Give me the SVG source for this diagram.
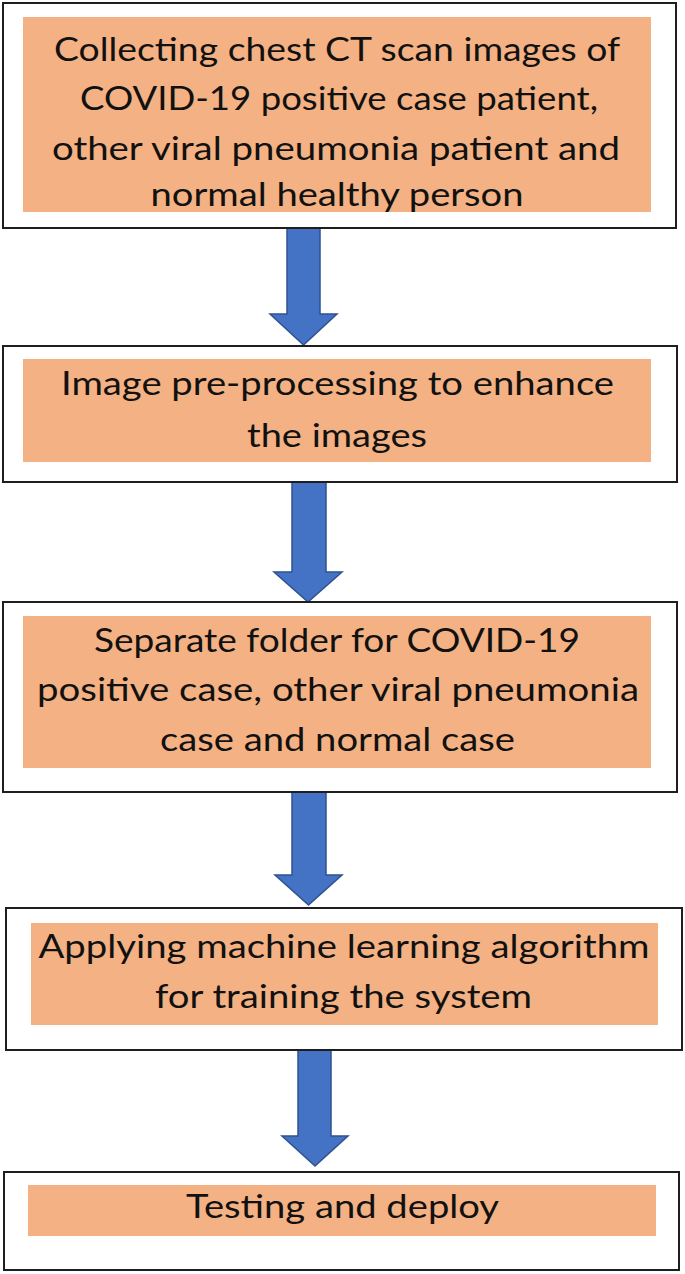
<svg xmlns="http://www.w3.org/2000/svg" width="685" height="1274" viewBox="0 0 685 1274">
<style>
.outer{fill:#ffffff;stroke:#1e1e1e;stroke-width:2}
.inner{fill:#F4B183;stroke:none}
.t{font-family:Lato,"Open Sans","Liberation Sans",sans-serif;font-size:33px;fill:#111111;text-anchor:middle}
.arrow{fill:#4472C4;stroke:#2F528F;stroke-width:1.5;stroke-linejoin:miter}
</style>
<rect width="685" height="1274" fill="#ffffff"/>
<g id="connectors">
<polygon class="arrow" points="287,228 320,228 320,314 337,314 303.5,345 270,314 287,314"/>
<polygon class="arrow" points="292,482 326,482 326,572 342,572 308,602 274,572 292,572"/>
<polygon class="arrow" points="292,792 326,792 326,875 342,875 308.5,905 275,875 292,875"/>
<polygon class="arrow" points="298,1050 331,1050 331,1136 348,1136 315,1166 282,1136 298,1136"/>
</g>
<g id="node1">
<rect class="outer" x="3" y="3" width="673" height="225"/>
<rect class="inner" x="23" y="17" width="628" height="195"/>
<text class="t" x="337" y="61" textLength="566" lengthAdjust="spacingAndGlyphs">Collecting chest CT scan images of</text>
<text class="t" x="339" y="110" textLength="518" lengthAdjust="spacingAndGlyphs">COVID-19 positive case patient,</text>
<text class="t" x="336" y="160" textLength="568" lengthAdjust="spacingAndGlyphs">other viral pneumonia patient and</text>
<text class="t" x="337" y="206" textLength="373" lengthAdjust="spacingAndGlyphs">normal healthy person</text>
</g>
<g id="node2">
<rect class="outer" x="3" y="346" width="674" height="136"/>
<rect class="inner" x="23" y="359" width="628" height="103"/>
<text class="t" x="337.5" y="395" textLength="553" lengthAdjust="spacingAndGlyphs">Image pre-processing to enhance</text>
<text class="t" x="337" y="447" textLength="180" lengthAdjust="spacingAndGlyphs">the images</text>
</g>
<g id="node3">
<rect class="outer" x="3" y="602" width="674" height="190"/>
<rect class="inner" x="23" y="616" width="628" height="152"/>
<text class="t" x="337" y="652" textLength="486" lengthAdjust="spacingAndGlyphs">Separate folder for COVID-19</text>
<text class="t" x="338" y="701" textLength="602" lengthAdjust="spacingAndGlyphs">positive case, other viral pneumonia</text>
<text class="t" x="337.5" y="751" textLength="355" lengthAdjust="spacingAndGlyphs">case and normal case</text>
</g>
<g id="node4">
<rect class="outer" x="6" y="908" width="676" height="142"/>
<rect class="inner" x="31" y="923" width="627" height="102"/>
<text class="t" x="344" y="958" textLength="611" lengthAdjust="spacingAndGlyphs">Applying machine learning algorithm</text>
<text class="t" x="343.5" y="1008" textLength="377" lengthAdjust="spacingAndGlyphs">for training the system</text>
</g>
<g id="node5">
<rect class="outer" x="4" y="1172" width="675" height="98"/>
<rect class="inner" x="28" y="1185" width="628" height="51"/>
<text class="t" x="342.5" y="1218" textLength="313" lengthAdjust="spacingAndGlyphs">Testing and deploy</text>
</g>
</svg>
